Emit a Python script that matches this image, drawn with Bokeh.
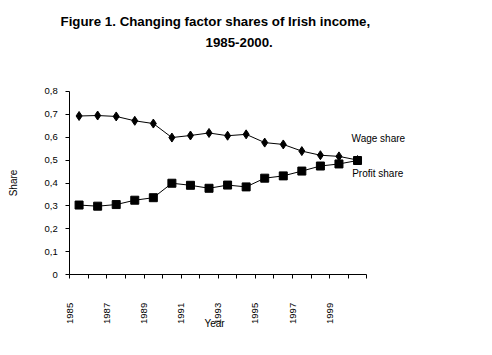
from math import pi
from bokeh.plotting import figure
from bokeh.models import FixedTicker, Label, ColumnDataSource, Range1d
from bokeh.embed import file_html
from bokeh.resources import INLINE

years = list(range(1985, 2001))
wage_share = [0.692, 0.694, 0.690, 0.671, 0.659, 0.598, 0.607, 0.618, 0.606, 0.612,
              0.576, 0.568, 0.539, 0.521, 0.516, 0.500]
profit_share = [0.304, 0.299, 0.306, 0.325, 0.336, 0.399, 0.390, 0.377, 0.391, 0.383,
                0.421, 0.431, 0.452, 0.474, 0.483, 0.498]
y_ticks = [0, 0.1, 0.2, 0.3, 0.4, 0.5, 0.6, 0.7, 0.8]
y_tick_labels = ["0", "0,1", "0,2", "0,3", "0,4", "0,5", "0,6", "0,7", "0,8"]
x_tick_labels = ["1985", "1987", "1989", "1991", "1993", "1995", "1997", "1999"]

src = ColumnDataSource(dict(year=years, wage=wage_share, profit=profit_share))

W, H = 476, 335
X0, X1 = 1984.5, 2000.5
# frame covers whole canvas; axes are drawn at fixed locations
p = figure(width=W, height=H, output_backend="svg", toolbar_location=None,
           x_range=Range1d(1980.7667, 2006.4098), y_range=Range1d(-0.26448, 1.19521),
           min_border=0, min_border_left=0, min_border_right=0,
           min_border_top=0, min_border_bottom=0)
p.outline_line_color = None
p.grid.grid_line_color = None
p.background_fill_color = "white"
p.border_fill_color = "white"

FONT = "Liberation Sans"

bounds = [X0 + k for k in range(17)]
p.xaxis.fixed_location = 0
p.xaxis.bounds = (X0, X1)
p.xaxis.ticker = FixedTicker(ticks=bounds)
overrides = {}
for b in bounds:
    overrides[b] = ""
for k, lab in enumerate(x_tick_labels):
    overrides[bounds[2 * k]] = lab
p.xaxis.major_label_overrides = overrides
p.xaxis.major_label_orientation = pi / 2
p.xaxis.major_label_standoff = 24
p.xaxis.major_tick_out = 4
p.xaxis.major_tick_in = 0
p.xaxis.minor_tick_line_color = None

p.yaxis.fixed_location = X0
p.yaxis.bounds = (0, 0.8)
p.yaxis.ticker = FixedTicker(ticks=y_ticks)
p.yaxis.major_label_overrides = {t: l for t, l in zip(y_ticks, y_tick_labels)}
p.yaxis.major_label_standoff = 8
p.yaxis.major_tick_out = 4
p.yaxis.major_tick_in = 0
p.yaxis.minor_tick_line_color = None

for ax in (p.xaxis, p.yaxis):
    ax.axis_line_color = "black"
    ax.major_tick_line_color = "black"
    ax.major_label_text_font = FONT
    ax.major_label_text_font_size = "9.5px"
    ax.major_label_text_color = "black"

p.line("year", "wage", source=src, line_color="black", line_width=1)
p.scatter("year", "wage", source=src, marker="diamond", size=9,
          fill_color="black", line_color="black")
p.line("year", "profit", source=src, line_color="black", line_width=1)
p.scatter("year", "profit", source=src, marker="square", size=8,
          fill_color="black", line_color="black")


def lab(x, y, text, **kw):
    opts = dict(text_font=FONT, text_font_size="10px", text_color="black")
    opts.update(kw)
    p.add_layout(Label(x=x, y=y, text=text, **opts))


lab(1984.0, 1.1024, "Figure 1. Changing factor shares of Irish income,",
    text_font_style="bold", text_font_size="13.3px", text_baseline="middle")
lab(1991.81, 1.0122, "1985-2000.",
    text_font_style="bold", text_font_size="13.3px", text_baseline="middle")
lab(1999.68, 0.595, "Wage share", text_baseline="middle")
lab(1999.71, 0.4427, "Profit share", text_baseline="middle")
lab(1981.467, 0.4, "Share", angle=pi / 2, text_align="center", text_baseline="middle")
lab(1992.295, -0.2122, "Year", text_align="center", text_baseline="middle")

open("out.html", "w").write(file_html(p, INLINE))
